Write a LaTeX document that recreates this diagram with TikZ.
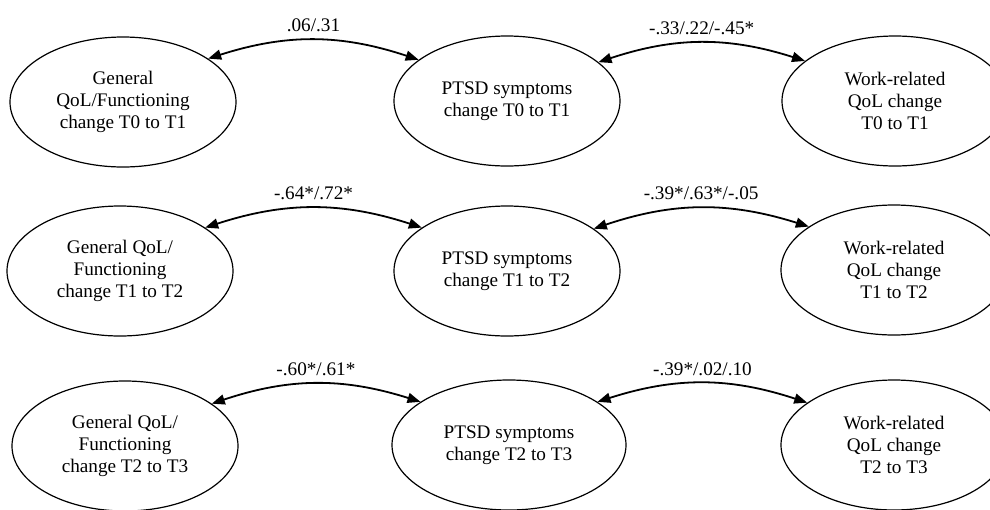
\documentclass[tikz,border=0pt]{standalone}
\usepackage{fontspec}
\setmainfont{Liberation Serif}
\usetikzlibrary{shapes.geometric,arrows.meta}
\begin{document}
\begin{tikzpicture}[x=0.5pt,y=0.5pt,
  var/.style={ellipse, draw, line width=0.6pt, minimum width=113pt, minimum height=65pt,
    inner sep=0pt, align=center, font=\fontsize{9.6}{10.85}\selectfont},
  cov/.style={{Triangle[length=6.5pt,width=5pt]}-{Triangle[length=6.5pt,width=5pt]}, line width=0.9pt},
  lbl/.style={font=\fontsize{9.6}{10.85}\selectfont, inner sep=0pt, above=3.5pt}]
\clip (0,0) rectangle (990,-509);
\node[var] (L1) at (123,-102) {General\\QoL/Functioning\\change T0 to T1};
\node[var] (M1) at (507,-101) {PTSD symptoms\\change T0 to T1};
\node[var] (R1) at (895,-101) {Work-related\\QoL change\\T0 to T1};
\node[var] (L2) at (120,-271) {General QoL/\\Functioning\\change T1 to T2};
\node[var] (M2) at (507,-271) {PTSD symptoms\\change T1 to T2};
\node[var] (R2) at (894,-270) {Work-related\\QoL change\\T1 to T2};
\node[var] (L3) at (125,-446) {General QoL/\\Functioning\\change T2 to T3};
\node[var, minimum width=117pt] (M3) at (509,-445) {PTSD symptoms\\change T2 to T3};
\node[var] (R3) at (894,-445) {Work-related\\QoL change\\T2 to T3};
\draw[cov] (L1.27) to[bend left=18] node[lbl] (c1) {.06/.31} (M1.155);
\draw[cov] (M1.23) to[bend left=18] node[lbl] (c2) {-.33/.22/-.45*} (R1.156);
\draw[cov] (L2.27) to[bend left=18] node[lbl] (c3) {-.64*/.72*} (M2.153);
\draw[cov] (M2.26) to[bend left=18] node[lbl] (c4) {-.39*/.63*/-.05} (R2.153);
\draw[cov] (L3.26) to[bend left=18] node[lbl] (c5) {-.60*/.61*} (M3.154);
\draw[cov] (M3.26) to[bend left=18] node[lbl] (c6) {-.39*/.02/.10} (R3.154);
\end{tikzpicture}
\end{document}
